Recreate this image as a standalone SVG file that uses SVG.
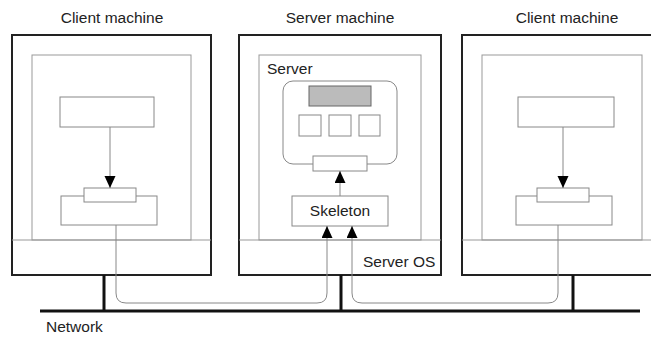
<svg xmlns="http://www.w3.org/2000/svg" width="651" height="338" viewBox="0 0 651 338">
<style>
.outer{fill:none;stroke:#222;stroke-width:2}
.inner{fill:#fff;stroke:#999;stroke-width:1}
.box{fill:#fff;stroke:#888;stroke-width:1}
.net{fill:none;stroke:#111;stroke-width:3}
.wire{fill:none;stroke:#888;stroke-width:1}
text{font-family:"Liberation Sans",Arial,sans-serif;font-size:15.5px;fill:#222}
</style>
<defs>
<marker id="ah" markerWidth="12" markerHeight="12" refX="12" refY="5.5" orient="auto" markerUnits="userSpaceOnUse">
<path d="M0,0 L12,5.5 L0,11 Z" fill="#000"/>
</marker>
</defs>
<rect width="651" height="338" fill="#fff"/>
<g id="client1">
<text x="112" y="23" text-anchor="middle">Client machine</text>
<rect class="outer" x="12" y="35" width="199" height="240"/>
<rect class="inner" x="32" y="55" width="159" height="185"/>
<line class="inner" x1="12" y1="240" x2="211" y2="240"/>
<rect class="box" x="60" y="97" width="94" height="30"/>
<rect class="box" x="61" y="196" width="96" height="29"/>
<rect class="box" x="84" y="188" width="52" height="14"/>
</g>
<g id="server">
<text x="340" y="23" text-anchor="middle">Server machine</text>
<rect class="outer" x="239" y="35" width="202" height="240"/>
<rect class="inner" x="259" y="55" width="162" height="185"/>
<line class="inner" x1="239" y1="240" x2="441" y2="240"/>
<text x="267" y="74">Server</text>
<rect class="box" x="283" y="81" width="114" height="83" rx="10"/>
<rect x="309" y="86" width="62" height="20" fill="#bbb" stroke="#666" stroke-width="1"/>
<rect class="box" x="299" y="115" width="22" height="21"/>
<rect class="box" x="329" y="115" width="22" height="21"/>
<rect class="box" x="359" y="115" width="21" height="21"/>
<rect class="box" x="313" y="156" width="54" height="15"/>
<rect class="box" x="292" y="196" width="96" height="30"/>
<text x="340" y="216" text-anchor="middle">Skeleton</text>
<text x="363" y="267">Server OS</text>
</g>
<g id="client2">
<text x="567" y="23" text-anchor="middle">Client machine</text>
<rect class="outer" x="462" y="35" width="199" height="240"/>
<rect class="inner" x="482" y="55" width="160" height="185"/>
<line class="inner" x1="462" y1="240" x2="651" y2="240"/>
<rect class="box" x="518" y="97" width="96" height="30"/>
<rect class="box" x="516" y="196" width="96" height="29"/>
<rect class="box" x="537" y="188" width="52" height="14"/>
</g>
<g id="network">
<line class="net" x1="40" y1="311" x2="640" y2="311"/>
<line class="net" x1="104" y1="275" x2="104" y2="311"/>
<line class="net" x1="341" y1="275" x2="341" y2="311"/>
<line class="net" x1="573" y1="275" x2="573" y2="311"/>
<text x="46" y="332">Network</text>
</g>
<g id="connectors">
<line class="wire" x1="110" y1="127" x2="110" y2="188" marker-end="url(#ah)"/>
<line class="wire" x1="563" y1="127" x2="563" y2="188" marker-end="url(#ah)"/>
<line class="wire" x1="340" y1="196" x2="340" y2="171" marker-end="url(#ah)"/>
<path class="wire" d="M116,225 V293 Q116,303 126,303 H317 Q327,303 327,293 V226" marker-end="url(#ah)"/>
<path class="wire" d="M558,225 V293 Q558,303 548,303 H362 Q352,303 352,293 V226" marker-end="url(#ah)"/>
</g>
</svg>
